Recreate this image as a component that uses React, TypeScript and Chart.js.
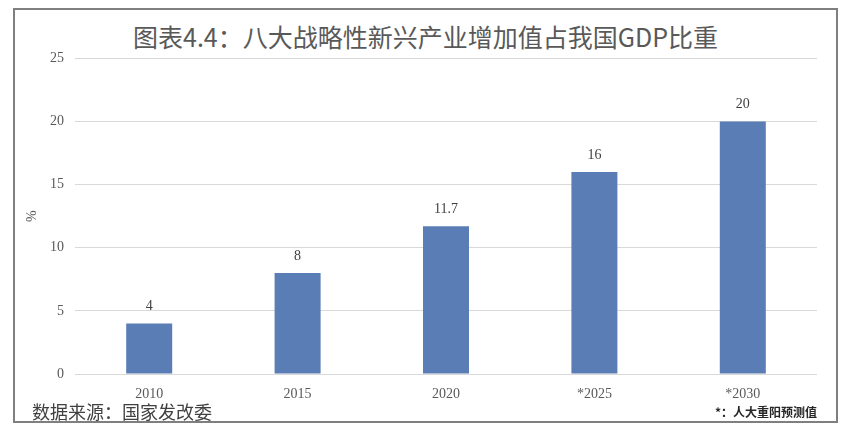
import React, { useEffect, useRef } from "react";
import { Chart, registerables } from "chart.js";

Chart.register(...registerables);

const categories = ["2010", "2015", "2020", "*2025", "*2030"];
const values = [4, 8, 11.7, 16, 20];
const yTicks = [0, 5, 10, 15, 20, 25];
const titleText = "图表4.4：八大战略性新兴产业增加值占我国GDP比重";
const sourceText = "数据来源：国家发改委";
const noteText = "*：人大重阳预测值";

const labelPlugin = {
  id: "barLabels",
  afterDatasetsDraw(chart: any) {
    const ctx = chart.ctx;
    const meta = chart.getDatasetMeta(0);
    ctx.save();
    ctx.font = "14px 'Liberation Serif', 'DejaVu Serif', serif";
    ctx.fillStyle = "#404040";
    ctx.textAlign = "center";
    ctx.textBaseline = "middle";
    meta.data.forEach((el: any, i: number) => {
      ctx.fillText(String(values[i]), el.x, el.y - 17);
    });
    ctx.restore();
  },
};

export default function App() {
  const ref = useRef<HTMLCanvasElement>(null);
  useEffect(() => {
    if (!ref.current) return;
    const chart = new Chart(ref.current, {
      type: "bar",
      data: {
        labels: categories,
        datasets: [
          {
            data: values,
            backgroundColor: "#5a7db5",
            categoryPercentage: 1,
            barPercentage: 0.31,
          },
        ],
      },
      options: {
        animation: false,
        responsive: false,
        maintainAspectRatio: false,
        layout: { padding: { left: 8, right: 17, top: 9, bottom: 0 } },
        plugins: {
          legend: { display: false },
          tooltip: { enabled: false },
          title: { display: false },
        },
        scales: {
          y: {
            min: 0,
            max: 25,
            afterBuildTicks: (scale: any) => {
              scale.ticks = yTicks.map((v) => ({ value: v }));
            },
            afterFit: (scale: any) => {
              scale.width = 51;
            },
            ticks: {
              font: { family: "'Liberation Serif', 'DejaVu Serif', serif", size: 14 },
              color: "#595959",
              padding: 11,
            },
            grid: { color: "#d9d9d9", lineWidth: 1, drawTicks: false },
            border: { display: false },
            title: {
              display: true,
              text: "%",
              font: { family: "'Liberation Serif', 'DejaVu Serif', serif", size: 14 },
              color: "#595959",
              padding: 0,
            },
          },
          x: {
            grid: { display: false, drawTicks: false },
            border: { display: false },
            afterFit: (scale: any) => {
              scale.height = 32;
            },
            ticks: {
              font: { family: "'Liberation Serif', 'DejaVu Serif', serif", size: 14 },
              color: "#595959",
              padding: 12,
            },
          },
        },
      },
      plugins: [labelPlugin],
    });
    return () => chart.destroy();
  }, []);

  return (
    <div style={{ position: "absolute", left: 0, top: 0, width: 851, height: 434, background: "#fff" }}>
      <div
        style={{
          position: "absolute",
          left: 13,
          top: 8,
          width: 821,
          height: 411,
          border: "2px solid #7f7f7f",
          boxSizing: "content-box",
        }}
      />
      <div
        style={{
          position: "absolute",
          left: 0,
          top: 19,
          width: 851,
          textAlign: "center",
          fontFamily: "'Noto Sans CJK SC', sans-serif",
          fontSize: 25,
          lineHeight: "34px",
          color: "#595959",
        }}
      >
        {titleText}
      </div>
      <canvas
        ref={ref}
        width={818}
        height={367}
        style={{ position: "absolute", left: 16, top: 39, width: 818, height: 367 }}
      />
      <div
        style={{
          position: "absolute",
          left: 32,
          top: 399,
          fontFamily: "'Noto Sans CJK SC', sans-serif",
          fontSize: 18,
          lineHeight: "24px",
          color: "#404040",
        }}
      >
        {sourceText}
      </div>
      <div
        style={{
          position: "absolute",
          right: 34,
          top: 403,
          fontFamily: "'Noto Sans CJK SC', sans-serif",
          fontSize: 12,
          fontWeight: "bold",
          lineHeight: "18px",
          color: "#262626",
        }}
      >
        {noteText}
      </div>
    </div>
  );
}
